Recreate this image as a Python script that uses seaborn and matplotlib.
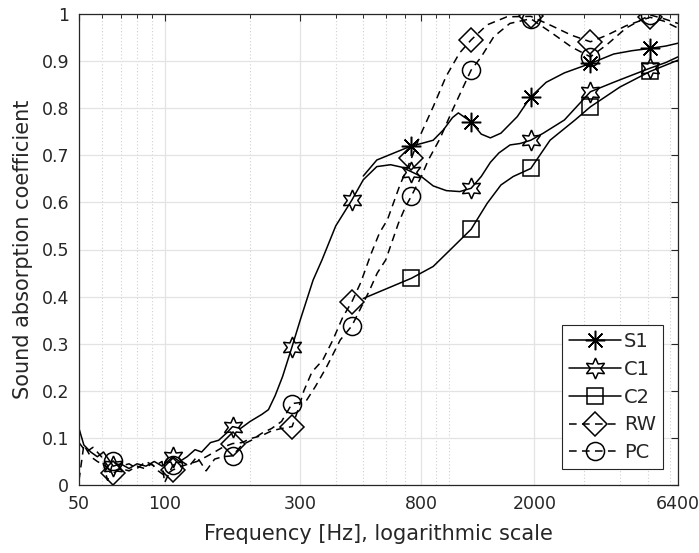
import numpy as np
import matplotlib
matplotlib.use("Agg")
import matplotlib.pyplot as plt
import matplotlib.ticker as mticker
import seaborn as sns

# ---------------- data ----------------
marker_freqs = [66, 107, 173.5, 281, 456, 739, 1198, 1942, 3149, 5104]

s1_freq = [500, 558, 660, 739, 800, 881, 957, 1030, 1080, 1198, 1300, 1400,
           1525, 1740, 1942, 2200, 2550, 3149, 3800, 4400, 5104, 5800, 6400]
s1_vals = [0.656, 0.69, 0.708, 0.72, 0.725, 0.732, 0.754, 0.78, 0.79, 0.771,
           0.745, 0.737, 0.747, 0.782, 0.824, 0.855, 0.875, 0.895, 0.915,
           0.922, 0.927, 0.932, 0.938]

c1_freq = [50, 52, 55, 58, 61, 66, 70, 75, 80, 86, 92, 98, 107, 113, 120, 128,
           135, 145, 155, 165, 173.5, 185, 200, 220, 232, 245, 260, 281, 300,
           333, 358, 400, 456, 500, 558, 624, 680, 739, 800, 881, 980, 1092,
           1198, 1300, 1400, 1500, 1642, 1780, 1942, 2150, 2550, 3149, 3800,
           4400, 5104, 5800, 6400]
c1_vals = [0.12, 0.085, 0.07, 0.06, 0.07, 0.04, 0.045, 0.035, 0.045, 0.04,
           0.05, 0.04, 0.06, 0.05, 0.06, 0.075, 0.07, 0.09, 0.095, 0.11, 0.124,
           0.12, 0.135, 0.15, 0.16, 0.19, 0.23, 0.294, 0.35, 0.435, 0.478, 0.55,
           0.605, 0.648, 0.676, 0.68, 0.675, 0.665, 0.655, 0.635, 0.625, 0.623,
           0.63, 0.655, 0.685, 0.705, 0.722, 0.725, 0.732, 0.747, 0.775, 0.835,
           0.855, 0.87, 0.885, 0.897, 0.909]

c2_freq = [500, 739, 881, 1010, 1198, 1364, 1525, 1685, 1942, 2270, 2780,
           3149, 4000, 5104, 6400]
c2_vals = [0.396, 0.439, 0.464, 0.499, 0.543, 0.598, 0.637, 0.655, 0.672,
           0.732, 0.775, 0.803, 0.845, 0.878, 0.902]

rw_freq = [50, 52, 55, 58, 62, 66, 70, 75, 80, 85, 90, 95, 100, 107, 115, 122,
           130, 140, 150, 160, 173.5, 187, 202, 220, 238, 258, 281, 295, 309,
           330, 360, 391, 424, 456, 490, 532, 570, 608, 673, 739, 790, 881, 977,
           1090, 1198, 1364, 1600, 1942, 2300, 2700, 3149, 3600, 4200, 5104,
           5700, 6400]
rw_vals = [0.01, 0.085, 0.06, 0.05, 0.04, 0.025, 0.035, 0.03, 0.04, 0.035,
           0.045, 0.03, 0.02, 0.032, 0.04, 0.045, 0.05, 0.06, 0.07, 0.08, 0.088,
           0.09, 0.099, 0.105, 0.115, 0.12, 0.124, 0.16, 0.2, 0.24, 0.265, 0.308,
           0.357, 0.389, 0.43, 0.49, 0.535, 0.563, 0.637, 0.694, 0.74, 0.803,
           0.867, 0.917, 0.945, 0.977, 0.994, 0.995, 0.975, 0.955, 0.941, 0.955,
           0.975, 0.993, 0.985, 0.97]

pc_freq = [50, 53, 56, 60, 63, 66, 70, 75, 80, 86, 92, 98, 100, 107, 115, 122,
           130, 140, 150, 160, 173.5, 187, 202, 220, 238, 258, 281, 300, 316,
           340, 371, 415, 456, 523, 560, 600, 665, 703, 739, 800, 847, 930,
           1030, 1198, 1300, 1440, 1640, 1942, 2300, 2700, 3149, 3600, 4200,
           5104, 5700, 6400]
pc_vals = [0.09, 0.07, 0.08, 0.06, 0.01, 0.05, 0.04, 0.045, 0.035, 0.05, 0.04,
           0.05, 0.005, 0.042, 0.05, 0.04, 0.06, 0.03, 0.055, 0.06, 0.062, 0.085,
           0.095, 0.11, 0.12, 0.135, 0.173, 0.175, 0.18, 0.21, 0.25, 0.308,
           0.338, 0.41, 0.45, 0.478, 0.556, 0.59, 0.614, 0.655, 0.69, 0.735,
           0.796, 0.881, 0.909, 0.952, 0.98, 0.99, 0.96, 0.93, 0.909, 0.935,
           0.97, 0.998, 0.99, 0.98]

xtick_vals = [50, 100, 300, 800, 2000, 6400]
xtick_labels = ["50", "100", "300", "800", "2000", "6400"]
xminor_vals = [60, 70, 80, 90, 200, 400, 500, 600, 700, 900, 1000,
               3000, 4000, 5000, 6000]
ytick_vals = [0, 0.1, 0.2, 0.3, 0.4, 0.5, 0.6, 0.7, 0.8, 0.9, 1.0]
ytick_labels = ["0", "0.1", "0.2", "0.3", "0.4", "0.5", "0.6", "0.7", "0.8",
                "0.9", "1"]

# ---------------- styling ----------------
sns.set_theme(style="white")
plt.rcParams["font.family"] = ["DejaVu Sans"]

fig = plt.figure(figsize=(6.99, 5.53), dpi=100)
ax = fig.add_axes([79 / 699, 68 / 553, 599 / 699, 471 / 553])

dash = (0, (5, 3.5))
series = [
    ("S1", s1_freq, s1_vals, "-", (8, 2, 0), 14),
    ("C1", c1_freq, c1_vals, "-", (6, 1, 0), 15),
    ("C2", c2_freq, c2_vals, "-", "s", 11),
    ("RW", rw_freq, rw_vals, dash, "D", 12),
    ("PC", pc_freq, pc_vals, dash, "o", 13),
]

for name, fx, fy, ls, mk, ms in series:
    idx = [i for i, f in enumerate(fx) if f in marker_freqs]
    sns.lineplot(x=fx, y=fy, ax=ax, color="black", linestyle=ls, lw=1.1,
                 marker=mk, markersize=ms, markevery=idx,
                 markerfacecolor="none", markeredgecolor="black",
                 markeredgewidth=1.1, label=name, errorbar=None, sort=False)

ax.set_xscale("log")
ax.set_xlim(50, 6400)
ax.set_ylim(0, 1)
ax.xaxis.set_major_locator(mticker.FixedLocator(xtick_vals))
ax.xaxis.set_major_formatter(mticker.FixedFormatter(xtick_labels))
ax.xaxis.set_minor_locator(mticker.FixedLocator(xminor_vals))
ax.xaxis.set_minor_formatter(mticker.NullFormatter())
ax.set_yticks(ytick_vals)
ax.set_yticklabels(ytick_labels)

ax.grid(which="major", color="#e3e3e3", lw=0.9, ls="-")
ax.grid(which="minor", axis="x", color="#d0d0d0", lw=0.8, ls=(0, (1, 2)))
ax.set_axisbelow(True)

for sp in ax.spines.values():
    sp.set_color("#262626")
    sp.set_linewidth(0.9)
ax.tick_params(which="both", direction="in", top=True, right=True,
               colors="#262626", labelcolor="#262626")
ax.tick_params(which="major", length=5, width=0.8, labelsize=12.5, pad=7)
ax.tick_params(which="minor", length=3, width=0.7)

ax.set_xlabel("Frequency [Hz], logarithmic scale", fontsize=15,
              color="#262626", labelpad=8)
ax.set_ylabel("Sound absorption coefficient", fontsize=15,
              color="#262626", labelpad=6)

leg = ax.legend(loc="lower right", bbox_to_anchor=(0.975, 0.034),
                borderaxespad=0, fontsize=14, handlelength=2.7,
                handletextpad=0.15, labelspacing=0.45, borderpad=0.35,
                frameon=True, fancybox=False, framealpha=1)
leg.get_frame().set_edgecolor("#262626")
leg.get_frame().set_linewidth(0.8)

fig.savefig("out.png", dpi=100)
